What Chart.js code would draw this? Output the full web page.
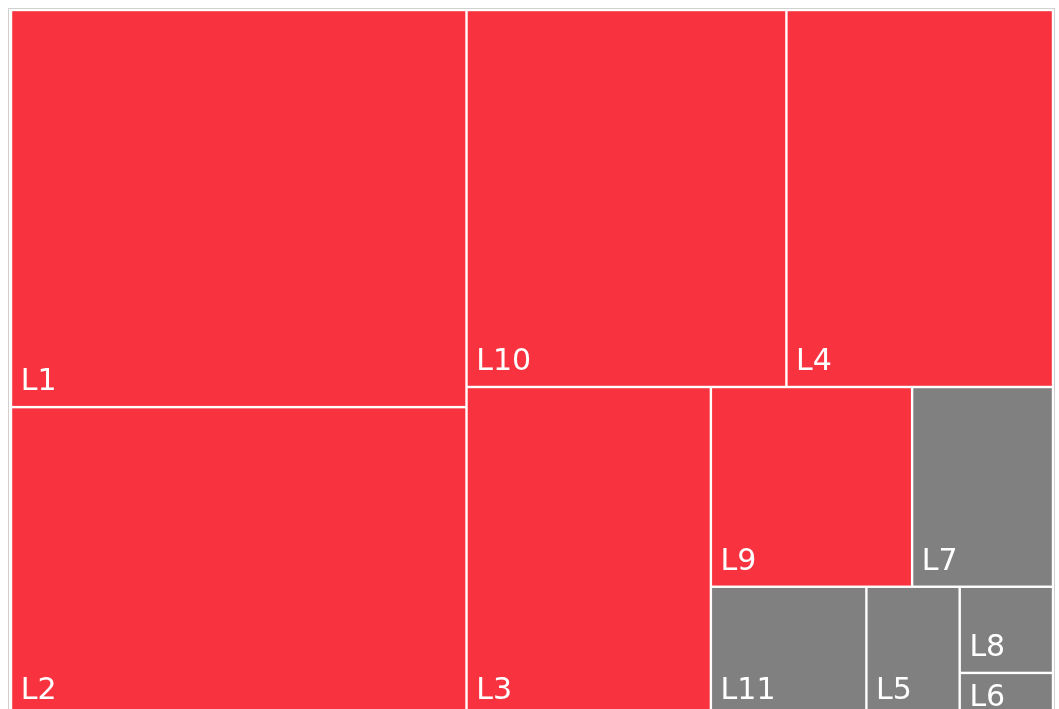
<!DOCTYPE html>
<html><head><meta charset="utf-8">
<script src="https://cdn.jsdelivr.net/npm/chart.js@4.4.1/dist/chart.umd.min.js"></script>
<style>
html,body{margin:0;padding:0;background:#fff;overflow:hidden;width:1059px;height:709px;}
#frame{position:absolute;left:8px;top:8px;width:1047px;height:760px;border:1px solid #d0d0d0;box-sizing:border-box;}
#c{position:absolute;left:0;top:0;}
</style></head><body>
<div id="frame"></div>
<canvas id="c" width="1059" height="730"></canvas>
<script>
// ---- data ----
const categories = ['L1','L2','L10','L4','L3','L9','L7','L11','L5','L8','L6'];
const values     = [45, 35, 30, 25, 20, 10, 7, 5, 3, 2, 1];
const cellColors = ['#F8333F','#F8333F','#F8333F','#F8333F','#F8333F','#F8333F',
                    '#808080','#808080','#808080','#808080','#808080'];

// ---- squarified layout (strip direction by aspect threshold) ----
const STRIP_ASPECT = 1.2;
function worstRatio(row, side, unit) {
  const s = row.reduce((a, b) => a + b.v, 0) * unit;
  const t = s / side;
  let w = 0;
  for (const it of row) {
    const len = it.v * unit / t;
    w = Math.max(w, t / len, len / t);
  }
  return w;
}
function squarify(items, rect) {
  const out = [];
  let rest = items.slice();
  let r = Object.assign({}, rect);
  while (rest.length) {
    const total = rest.reduce((a, b) => a + b.v, 0);
    const unit = (r.w * r.h) / total;
    const vertical = r.w > STRIP_ASPECT * r.h;
    const side = vertical ? r.h : r.w;
    let row = [], best = Infinity;
    for (let k = 0; k < rest.length; k++) {
      const cand = row.concat([rest[k]]);
      const wr = worstRatio(cand, side, unit);
      if (row.length && wr > best) break;
      row = cand; best = wr;
    }
    const thick = row.reduce((a, b) => a + b.v, 0) * unit / side;
    let off = 0;
    for (const it of row) {
      const len = it.v * unit / thick;
      if (vertical) out.push({i: it.i, x: r.x, y: r.y + off, w: thick, h: len});
      else out.push({i: it.i, x: r.x + off, y: r.y, w: len, h: thick});
      off += len;
    }
    if (vertical) { r.x += thick; r.w -= thick; } else { r.y += thick; r.h -= thick; }
    rest = rest.slice(row.length);
  }
  return out;
}

const GAP = 1.2;
const treemapPlugin = {
  id: 'treemapLite',
  afterDatasetsDraw(chart) {
    const ca = chart.chartArea;
    const W = ca.right - ca.left, H = ca.bottom - ca.top;
    const items = values.map((v, i) => ({i, v})).sort((a, b) => b.v - a.v);
    // layout in pixel proportions, then expressed in scale units (0..1)
    const cells = squarify(items, {x: 0, y: 0, w: W, h: H}).map(c => ({
      i: c.i, x0: c.x / W, x1: (c.x + c.w) / W, y0: c.y / H, y1: (c.y + c.h) / H
    }));
    const xs = chart.scales.x, ys = chart.scales.y;
    const ctx = chart.ctx;
    for (const c of cells) {
      const l = xs.getPixelForValue(c.x0) + GAP, r = xs.getPixelForValue(c.x1) - GAP;
      const t = ys.getPixelForValue(c.y0) + GAP, b = ys.getPixelForValue(c.y1) - GAP;
      ctx.save();
      ctx.fillStyle = cellColors[c.i];
      ctx.fillRect(l, t, r - l, b - t);
      ctx.font = '30px "DejaVu Sans", sans-serif';
      ctx.fillStyle = '#ffffff';
      ctx.textAlign = 'left';
      ctx.textBaseline = 'alphabetic';
      let base = b - 16;
      if (b - t < 48) base = t + 32;
      ctx.fillText(categories[c.i], l + 8.5, base);
      ctx.restore();
    }
  }
};

function draw() {
  new Chart(document.getElementById('c'), {
    type: 'scatter',
    data: { datasets: [{ label: 'treemap', data: [] }] },
    options: {
      responsive: false,
      animation: false,
      layout: { padding: { left: 11, top: 10, right: 6, bottom: 14 } },
      scales: {
        x: { type: 'linear', min: 0, max: 1, display: false },
        y: { type: 'linear', min: 0, max: 1, reverse: true, display: false }
      },
      plugins: { legend: { display: false }, tooltip: { enabled: false } }
    },
    plugins: [treemapPlugin]
  });
}
if (document.fonts && document.fonts.load) {
  document.fonts.load('30px "DejaVu Sans"').then(draw, draw);
} else draw();
</script>
</body></html>
